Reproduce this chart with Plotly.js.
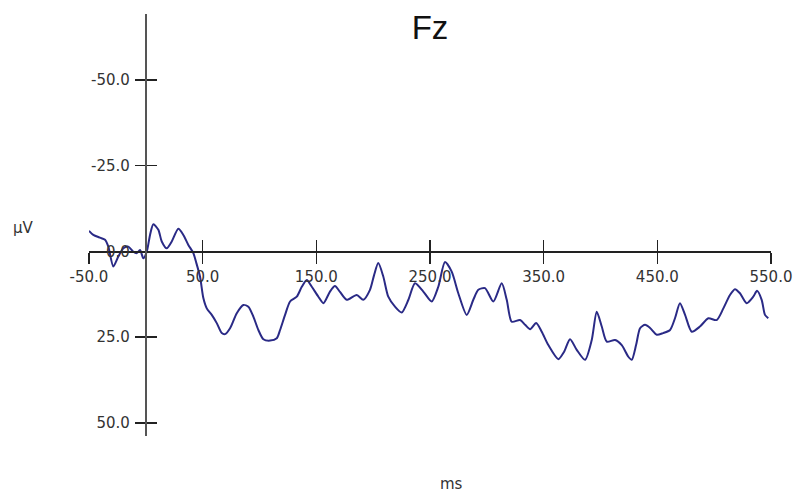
<!DOCTYPE html>
<html>
<head>
<meta charset="utf-8">
<script src="https://cdn.plot.ly/plotly-3.0.1.min.js"></script>
<style>html,body{margin:0;padding:0;background:#fff;}#chart{width:795px;height:493px;}</style>
</head>
<body>
<div id="chart"></div>
<script>
// Time in ms
const timeMs = [-50,-46.2,-40.3,-35.9,-33,-28.6,-24.2,-19.8,-15.4,-11,
  -8,-5.1,-2.2,0.8,3.7,6.6,11,14,18.4,22.8,
  28.6,33,37.4,41.8,44.2,47.7,50.6,53.6,58,62.4,
  66.8,69.7,74.1,80,85.8,90.2,94.6,99,103.4,109.3,
  115.2,118.1,122.5,126.9,132.8,137.2,141.6,146,151.8,156.2,
  162,166.4,170.8,176.7,185.5,191.3,197.2,200.8,204.5,208.9,
  213.3,219.2,225.1,231,236.8,244.1,251.5,257.3,263.2,269.1,
  274.9,282.3,288.1,292.5,298.4,305.7,313.1,317.5,321.9,329.2,
  333.7,338.1,343.4,348.3,354.1,362.9,367.9,373.2,379.1,386.4,
  392.3,396.7,401.1,405.5,412.8,418.7,424.5,427.5,431.3,434.8,
  439.2,443.6,449.5,455,461.2,465.6,469.9,474.4,480.3,487.5,
  494.9,502.2,508.1,513.9,518.3,522.7,528.6,534.4,537.7,541.8,
  544.7,547.6];
// Amplitude in µV (negative up)
const amplitudeUV = [-6,-4.8,-4,-3.4,-1.4,4.4,1.5,-0.9,-1.4,0.1,
  0.5,-0.4,2,0.1,-4.8,-7.9,-6.3,-2.9,-0.9,-2.9,
  -6.6,-4.8,-1.9,0.5,3.1,7.4,13.6,16.6,18.5,20.9,
  23.8,24.1,22.4,18,15.6,16.1,19,22.9,25.6,26,
  25.3,22.9,18.5,14.6,13.2,10.3,8.3,10.3,13.2,15.1,
  11.7,10.1,11.8,14.1,12.7,14.1,11.2,6.9,3.4,7.3,
  13.2,16.1,17.8,14.1,9.3,11.7,14.6,10.3,3.1,5.9,
  12.2,18.5,14.1,11.2,10.7,14.6,9.3,14.1,20.5,20,
  21.4,22.7,20.9,23.4,27.3,31.4,29.3,25.6,28.7,31.6,
  25.8,17.6,21.9,26.3,25.8,27.3,30.7,31.6,27.3,22.4,
  21.4,22.3,24.3,23.8,22.9,19.4,15.1,18.5,23.4,21.9,
  19.5,20,16.6,12.7,11,12.2,15.1,13.2,11.5,14.1,
  18.5,19.5];

const xTickVals = [-50,50,150,250,350,450,550];
const xTickText = ["-50.0","50.0","150.0","250.0","350.0","450.0","550.0"];
const yTickVals = [-50,-25,0,25,50];
const yTickText = ["-50.0","-25.0","0.0","25.0","50.0"];

const xRange = [-50, 550];
const yRange = [53.8, -69.2];
const xPos = (0 - xRange[0]) / (xRange[1] - xRange[0]);
const yPos = (yRange[0] - 0) / (yRange[0] - yRange[1]);

const tickFont = {family: "DejaVu Sans", size: 15, color: "#333"};

const traces = [
  {x: timeMs, y: amplitudeUV, mode: "lines", type: "scatter",
   line: {color: "#2a2a86", width: 2, shape: "spline", smoothing: 0.7},
   hoverinfo: "x+y", showlegend: false},
  {x: timeMs, y: amplitudeUV, mode: "lines", type: "scatter",
   xaxis: "x2", yaxis: "y2", opacity: 0, line: {width: 1},
   hoverinfo: "skip", showlegend: false}
];

const layout = {
  width: 795, height: 493,
  margin: {l: 89, r: 24, t: 14, b: 57},
  paper_bgcolor: "#fff", plot_bgcolor: "#fff",
  title: {text: "Fz", font: {family: "Liberation Sans", size: 33, color: "#111"},
          x: 0.5, xref: "paper", xanchor: "center", y: 1 - 27/493, yref: "container", yanchor: "middle"},
  xaxis: {range: xRange, tickvals: xTickVals, ticktext: xTickText, tickfont: tickFont,
          ticks: "outside", ticklen: 11, tickwidth: 1.5, tickcolor: "#222",
          showline: true, linecolor: "#222", linewidth: 1.5,
          showgrid: false, zeroline: false, anchor: "free", position: yPos, fixedrange: true},
  yaxis: {range: yRange, tickvals: yTickVals, ticktext: yTickText, tickfont: tickFont,
          ticks: "outside", ticklen: 10, tickwidth: 1.5, tickcolor: "#222", ticklabelstandoff: 2,
          showline: true, linecolor: "#555", linewidth: 2,
          showgrid: false, zeroline: false, anchor: "free", position: xPos, fixedrange: true},
  xaxis2: {range: xRange, tickvals: xTickVals, showticklabels: false, overlaying: "x",
           ticks: "inside", ticklen: 11, tickwidth: 1.5, tickcolor: "#222",
           showline: false, showgrid: false, zeroline: false, anchor: "free", position: yPos, fixedrange: true},
  yaxis2: {range: yRange, tickvals: yTickVals, showticklabels: false, overlaying: "y", side: "left",
           ticks: "inside", ticklen: 10, tickwidth: 1.5, tickcolor: "#222",
           showline: false, showgrid: false, zeroline: false, anchor: "free", position: xPos, fixedrange: true},
  annotations: [
    {text: "µV", xref: "paper", yref: "paper", x: (23 - 89) / 682, y: (436 - 228) / 422,
     xanchor: "center", yanchor: "middle", showarrow: false, font: {family: "DejaVu Sans", size: 15, color: "#333"}},
    {text: "ms", xref: "paper", yref: "paper", x: (451.5 - 89) / 682, y: (436 - 484) / 422,
     xanchor: "center", yanchor: "middle", showarrow: false, font: {family: "DejaVu Sans", size: 15, color: "#333"}}
  ]
};

Plotly.newPlot("chart", traces, layout, {displayModeBar: false, staticPlot: true});
</script>
</body>
</html>
